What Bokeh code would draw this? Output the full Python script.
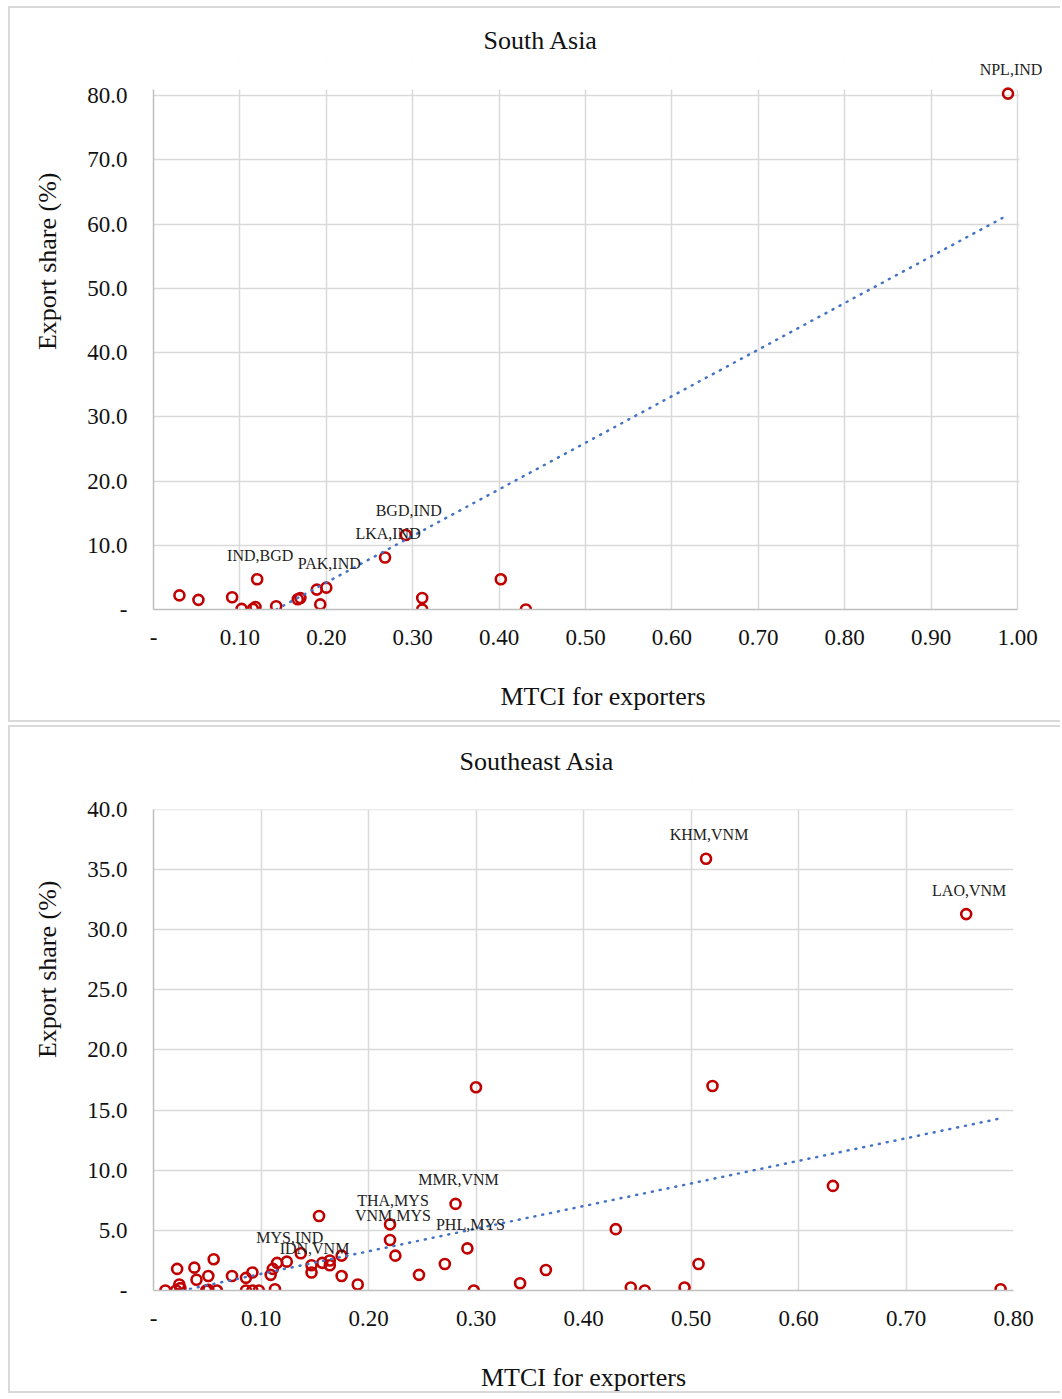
from bokeh.plotting import figure
from bokeh.models import Range1d, FixedTicker, ColumnDataSource, Title, LabelSet, BoxAnnotation
from bokeh.layouts import column
from bokeh.embed import file_html
from bokeh.resources import INLINE
from bokeh.core.properties import value

# ---------------- data: South Asia ----------------
sa_mtci = [0.030, 0.052, 0.091, 0.120, 0.102, 0.115, 0.118, 0.142, 0.167, 0.170,
           0.189, 0.200, 0.193, 0.268, 0.292, 0.311, 0.311, 0.402, 0.431, 0.989]
sa_share = [2.2, 1.5, 1.9, 4.7, 0.1, 0.1, 0.4, 0.5, 1.6, 1.8,
            3.1, 3.4, 0.8, 8.1, 11.6, 1.8, 0.0, 4.7, 0.0, 80.3]
sa_labels = ["", "", "", "IND,BGD", "", "", "", "", "", "",
             "", "PAK,IND", "", "LKA,IND", "BGD,IND", "", "", "", "", "NPL,IND"]
sa_trend_slope = 72.5
sa_trend_intercept = -10.3
sa_x_ticks = [0.0, 0.1, 0.2, 0.3, 0.4, 0.5, 0.6, 0.7, 0.8, 0.9, 1.0]
sa_x_tick_labels = ["-", "0.10", "0.20", "0.30", "0.40", "0.50", "0.60", "0.70", "0.80", "0.90", "1.00"]
sa_y_ticks = [0, 10, 20, 30, 40, 50, 60, 70, 80]
sa_y_tick_labels = ["-", "10.0", "20.0", "30.0", "40.0", "50.0", "60.0", "70.0", "80.0"]

# ---------------- data: Southeast Asia ----------------
sea_mtci = [0.011, 0.021, 0.024, 0.025, 0.022, 0.038, 0.040, 0.049, 0.051, 0.059,
            0.051, 0.056, 0.073, 0.086, 0.092, 0.086, 0.092, 0.098, 0.113, 0.109,
            0.111, 0.115, 0.124, 0.137, 0.147, 0.147, 0.154, 0.157, 0.164, 0.164,
            0.175, 0.175, 0.190, 0.220, 0.220, 0.225, 0.247, 0.271, 0.281, 0.292,
            0.298, 0.300, 0.341, 0.365, 0.430, 0.444, 0.457, 0.494, 0.507, 0.514,
            0.520, 0.632, 0.756, 0.788]
sea_share = [0.0, 0.0, 0.5, 0.2, 1.8, 1.9, 0.9, 0.0, 0.05, 0.0,
             1.2, 2.6, 1.2, 1.05, 1.5, 0.0, 0.0, 0.0, 0.1, 1.3,
             1.8, 2.3, 2.4, 3.1, 1.5, 2.1, 6.2, 2.3, 2.5, 2.1,
             1.2, 2.9, 0.5, 5.5, 4.2, 2.9, 1.3, 2.2, 7.2, 3.5,
             0.0, 16.9, 0.6, 1.7, 5.1, 0.25, 0.0, 0.25, 2.2, 35.9,
             17.0, 8.7, 31.3, 0.1]
sea_labels = ["", "", "", "", "", "", "", "", "", "",
              "", "", "", "", "", "", "", "", "", "",
              "", "", "MYS,IND", "", "IDN,VNM", "", "", "", "", "",
              "", "", "", "THA,MYS", "VNM,MYS", "", "", "", "MMR,VNM", "PHL,MYS",
              "", "", "", "", "", "", "", "", "", "KHM,VNM",
              "", "", "LAO,VNM", ""]
sea_trend_slope = 18.8
sea_trend_intercept = -0.5
sea_x_ticks = [0.0, 0.1, 0.2, 0.3, 0.4, 0.5, 0.6, 0.7, 0.8]
sea_x_tick_labels = ["-", "0.10", "0.20", "0.30", "0.40", "0.50", "0.60", "0.70", "0.80"]
sea_y_ticks = [0, 5, 10, 15, 20, 25, 30, 35, 40]
sea_y_tick_labels = ["-", "5.0", "10.0", "15.0", "20.0", "25.0", "30.0", "35.0", "40.0"]

FONT = "Liberation Serif"
GRID = "#d9d9d9"
AXIS = "#bfbfbf"
RED = "#c00000"
BLUE = "#4472c4"
INK = "#111111"


def make_panel(title, xs, ys, labels, slope, intercept, x_ticks, x_tick_labels,
               y_ticks, y_tick_labels, x_top, x_end, y_top, y_end, height, b_top, b_bottom, b_right,
               title_offset, title_standoff, ylab_offset, xlab_standoff):
    p = figure(width=1052, height=height,
               x_range=Range1d(0, x_end), y_range=Range1d(0, y_end),
               output_backend="svg", toolbar_location=None,
               min_border_left=143, min_border_right=b_right,
               min_border_top=b_top, min_border_bottom=b_bottom,
               background_fill_color="white", border_fill_color="white")
    p.frame_align = False
    p.outline_line_color = None
    p.styles = {"border-left": "2px solid #d9d9d9", "border-top": "2px solid #d9d9d9",
                "border-bottom": "2px solid #d9d9d9"}

    p.title.text = title
    p.title.align = "left"
    p.title.offset = title_offset
    p.title.text_font = FONT
    p.title.text_font_size = "26px"
    p.title.text_font_style = "normal"
    p.title.text_color = INK
    p.title.standoff = title_standoff

    for ax, ticks, labs in ((p.xaxis, x_ticks, x_tick_labels), (p.yaxis, y_ticks, y_tick_labels)):
        ax.ticker = FixedTicker(ticks=ticks)
        ax.major_label_overrides = {t: l for t, l in zip(ticks, labs)}
        ax.major_tick_line_color = None
        ax.minor_tick_line_color = None
        ax.major_tick_out = 0
        ax.major_tick_in = 0
        ax.minor_tick_out = 0
        ax.minor_tick_in = 0
        ax.axis_line_color = AXIS
        ax.axis_line_width = 1.5
        ax.major_label_text_font = FONT
        ax.major_label_text_font_size = "23px"
        ax.major_label_text_color = INK
    p.xaxis.major_label_standoff = 20
    p.yaxis.major_label_standoff = 26
    p.yaxis.bounds = (0, y_top)
    p.xaxis.bounds = (0, x_top)

    p.xaxis.axis_label = "MTCI for exporters"
    p.xaxis.axis_label_text_font = FONT
    p.xaxis.axis_label_text_font_size = "26px"
    p.xaxis.axis_label_text_font_style = "normal"
    p.xaxis.axis_label_text_color = INK
    p.xaxis.axis_label_standoff = xlab_standoff

    yt = Title(text="Export share (%)", align="right", offset=ylab_offset,
               vertical_align="top",
               text_font=FONT, text_font_size="26px", text_font_style="normal",
               text_color=INK, standoff=42)
    p.add_layout(yt, "left")

    p.xgrid.ticker = FixedTicker(ticks=x_ticks)
    p.ygrid.ticker = FixedTicker(ticks=y_ticks)
    p.xgrid.grid_line_color = GRID
    p.ygrid.grid_line_color = GRID
    p.xgrid.grid_line_width = 1.5
    p.ygrid.grid_line_width = 1.5

    # blank strips above / right of the plot area (room for data labels)
    p.add_layout(BoxAnnotation(bottom=y_top, fill_color="white", fill_alpha=1.0,
                               line_color=None, level="underlay"))
    if x_end > x_top:
        p.add_layout(BoxAnnotation(left=x_top + 0.002, fill_color="white", fill_alpha=1.0,
                                   line_color=None, level="underlay"))

    src = ColumnDataSource(dict(x=xs, y=ys))
    p.scatter("x", "y", source=src, size=10, fill_alpha=0, line_color=RED, line_width=2.6)

    # linear trendline (clipped at zero, ends at the largest MTCI)
    x0 = max(min(xs), -intercept / slope)
    x1 = max(xs)
    p.line([x0, x1], [slope * x0 + intercept, slope * x1 + intercept],
           line_color=BLUE, line_width=2.5, line_dash="1 7", line_cap="round")

    lab_src = ColumnDataSource(dict(
        x=[x for x, l in zip(xs, labels) if l],
        y=[y for y, l in zip(ys, labels) if l],
        t=[l for l in labels if l]))
    p.add_layout(LabelSet(x="x", y="y", text="t", source=lab_src, x_offset=3, y_offset=24,
                          text_align="center", text_baseline="middle",
                          text_font=value(FONT), text_font_size=value("16px"),
                          text_color=value("#222222")))
    return p


p1 = make_panel("South Asia", sa_mtci, sa_share, sa_labels, sa_trend_slope, sa_trend_intercept,
                sa_x_ticks, sa_x_tick_labels, sa_y_ticks, sa_y_tick_labels,
                1.0, 1.0405, 80.93, 85.76, 716, 50, 115, 10, 330, 8, 114, 34)
p2 = make_panel("Southeast Asia", sea_mtci, sea_share, sea_labels, sea_trend_slope, sea_trend_intercept,
                sea_x_ticks, sea_x_tick_labels, sea_y_ticks, sea_y_tick_labels,
                0.8, 0.8, 40.0, 42.41, 668, 53, 105, 49, 306, 10, 100, 34)

layout = column(p1, p2, spacing=3, margin=(6, 0, 0, 8))
open("out.html", "w").write(file_html(layout, INLINE))
